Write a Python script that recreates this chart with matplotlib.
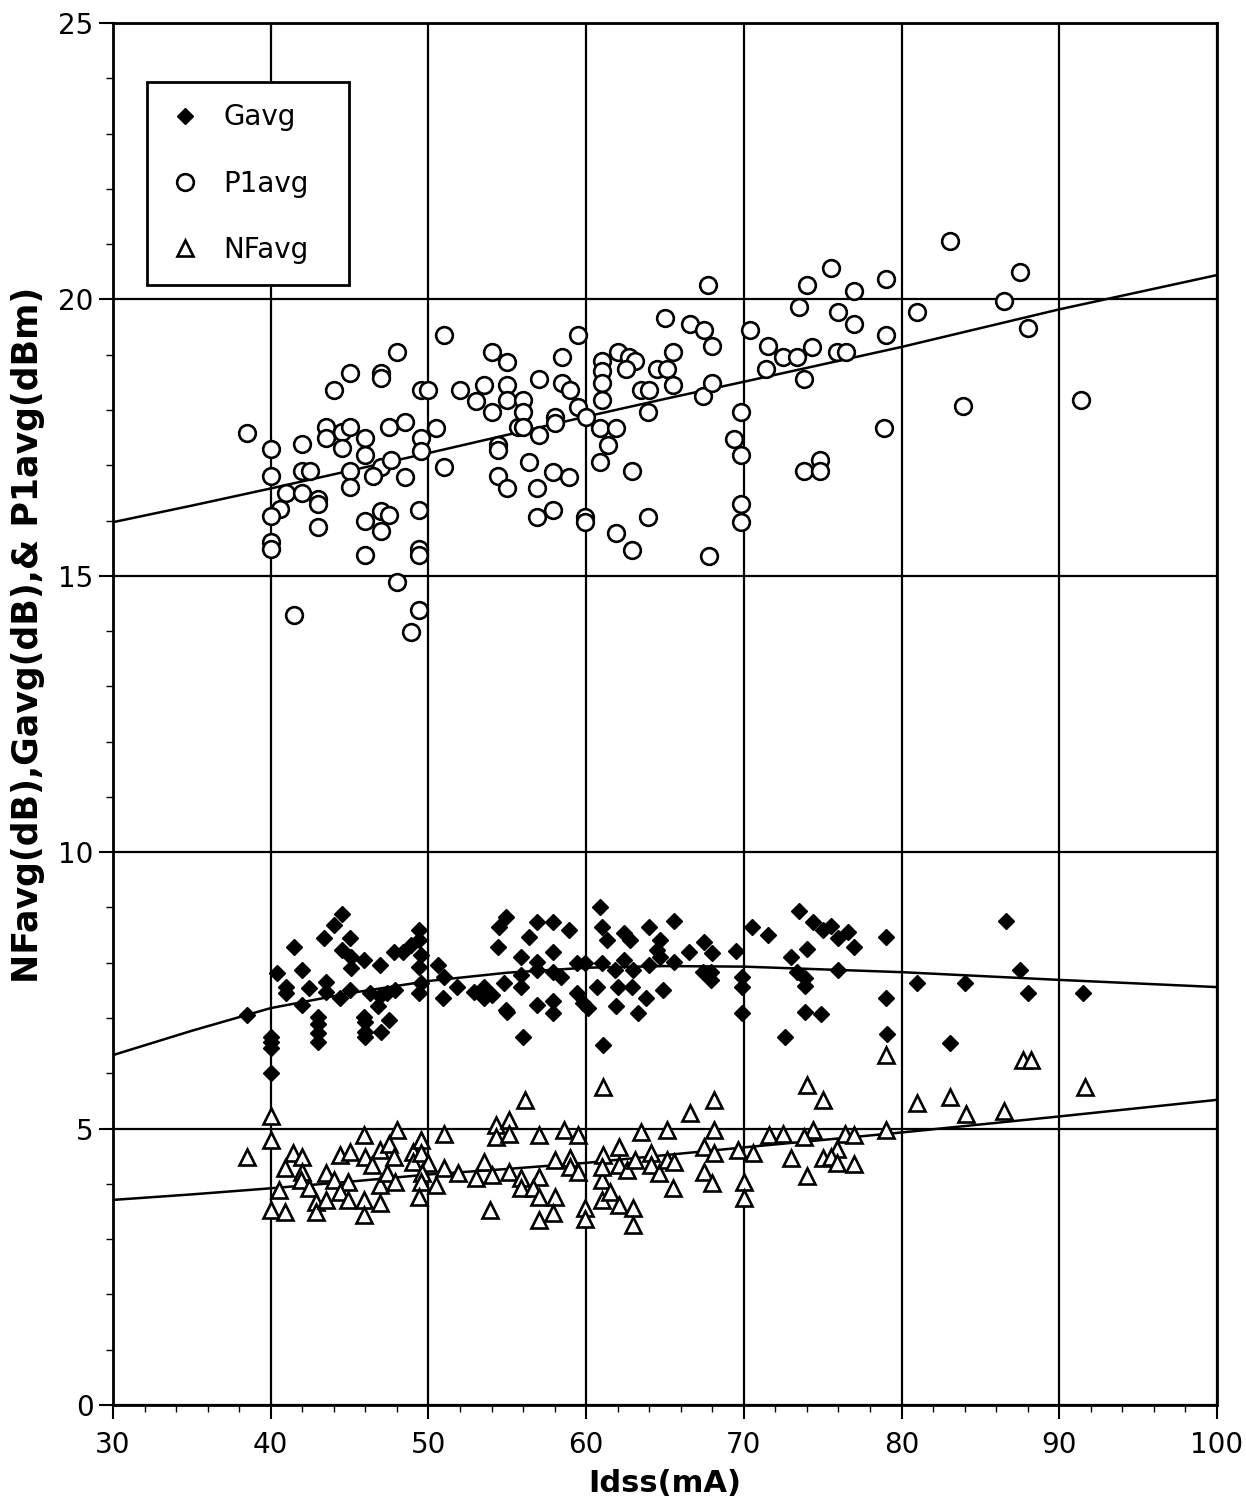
import numpy as np
import matplotlib.pyplot as plt
from matplotlib.lines import Line2D

plt.rcParams['font.family'] = ['DejaVu Sans']

# P1avg (open circles)
p1_x = [51.0, 48.0, 54.0, 55.0, 45.0, 47.0, 47.0, 44.0, 49.5, 50.0, 52.0, 53.5, 55.0, 53.0, 54.0, 55.0,
        55.7, 38.5, 43.5, 43.5, 44.5, 45.0, 44.5, 46.0, 46.0, 47.5, 48.5, 50.5, 49.5, 49.5, 40.0, 42.0,
        47.0, 47.6, 51.0, 54.4, 54.4, 40.0, 42.0, 42.5, 45.0, 45.0, 46.5, 48.5, 54.4, 55.0, 41.0, 42.0,
        43.0, 43.0, 40.6, 40.0, 43.0, 47.0, 47.5, 46.0, 47.0, 49.4, 40.0, 40.0, 46.0, 49.4, 49.4, 48.0,
        49.4, 48.9, 41.5,
        73.5, 65.0, 66.6, 67.5, 68.0, 70.4, 59.5, 71.5, 72.5, 73.4, 74.3, 71.4, 73.8, 58.5, 62.0, 62.7,
        63.1, 62.5, 61.0, 61.0, 61.0, 61.0, 64.5, 65.1, 65.5, 65.5, 63.5, 64.0, 57.0, 58.5, 59.0, 59.5,
        56.0, 56.0, 56.0, 57.0, 58.0, 58.0, 60.0, 60.9, 61.9, 61.4, 60.9, 63.9, 67.4, 68.0, 69.8, 69.4,
        69.8, 56.4, 57.9, 58.9, 56.9, 62.9, 56.9, 57.9, 59.9, 59.9, 63.9, 69.8, 69.8, 61.9, 62.9, 67.8,
        67.7,
        83.1, 87.5, 75.5, 74.0, 79.0, 77.0, 76.0, 77.0, 81.0, 86.5, 79.0, 88.0, 75.9, 76.5, 83.9, 91.4,
        78.9, 73.8, 74.8, 74.8]
p1_y = [19.36, 19.05, 19.05, 18.86, 18.66, 18.66, 18.57, 18.37, 18.37, 18.37, 18.37, 18.46, 18.46, 18.16, 17.97, 18.18,
        17.70, 17.58, 17.70, 17.50, 17.61, 17.70, 17.31, 17.49, 17.19, 17.69, 17.78, 17.67, 17.49, 17.26, 17.29, 17.38,
        16.97, 17.09, 16.97, 17.37, 17.27, 16.81, 16.89, 16.89, 16.89, 16.60, 16.80, 16.78, 16.80, 16.58, 16.49, 16.49,
        16.39, 16.29, 16.20, 16.09, 15.89, 16.18, 16.10, 15.99, 15.81, 16.19, 15.62, 15.48, 15.38, 15.48, 15.38, 14.88,
        14.38, 13.98, 14.29,
        19.86, 19.66, 19.55, 19.45, 19.16, 19.45, 19.36, 19.16, 18.95, 18.95, 19.13, 18.75, 18.56, 18.95, 19.05, 18.95,
        18.88, 18.75, 18.88, 18.70, 18.48, 18.18, 18.75, 18.75, 19.05, 18.45, 18.37, 18.37, 18.56, 18.48, 18.36, 18.06,
        18.18, 17.97, 17.70, 17.55, 17.87, 17.76, 17.87, 17.67, 17.67, 17.37, 17.06, 17.97, 18.25, 18.48, 17.97, 17.47,
        17.19, 17.06, 16.88, 16.78, 16.58, 16.89, 16.07, 16.19, 16.07, 15.98, 16.07, 16.30, 15.98, 15.77, 15.47, 15.36,
        20.26,
        21.06, 20.49, 20.56, 20.26, 20.36, 20.16, 19.77, 19.55, 19.77, 19.98, 19.36, 19.48, 19.05, 19.05, 18.08, 18.18,
        17.67, 16.89, 17.09, 16.89]

# Gavg (filled diamonds)
g_x = [44.5, 44.0, 43.4, 41.5, 45.0, 44.5, 45.1, 45.1, 45.9, 46.9, 47.8, 48.4, 48.9, 49.4, 49.4, 49.5,
       49.4, 49.5, 49.4, 40.4, 41.0, 41.0, 42.0, 42.4, 43.5, 43.5, 45.0, 44.4, 42.0, 43.0, 46.3, 46.9,
       47.4, 47.9, 46.8, 45.9, 50.6, 51.0, 51.8, 50.9, 52.9, 53.5, 54.0, 53.5, 54.8, 54.9, 54.4, 54.9,
       54.5, 56.4, 56.9, 57.9, 58.9, 55.9, 56.9, 56.9, 57.9, 55.9, 55.9, 57.9, 58.4, 59.4, 59.9, 60.9,
       61.0, 61.3, 62.4, 62.8, 64.0, 64.7, 64.5, 61.0, 61.8, 62.4, 63.0, 64.0, 64.7, 60.7, 62.0, 62.9,
       59.4, 59.8, 56.9, 57.9, 61.9, 63.8, 64.9, 63.3, 57.9, 38.5,
       65.6, 66.5, 67.5, 68.0, 69.5, 65.6, 67.4, 67.9, 67.9, 70.5, 71.5, 73.5, 74.4, 75.0, 75.5, 76.0,
       76.6, 77.0, 74.0, 73.0, 79.0, 69.9, 69.9, 69.9, 73.4, 73.9, 73.9, 76.0, 73.9, 74.9, 79.0, 81.0,
       84.0, 86.6, 87.5, 88.0, 91.5,
       40.0, 40.0, 40.0, 40.0, 43.0, 43.0, 43.0, 46.0, 46.0, 46.0, 47.0, 47.5, 55.0, 56.0, 60.1, 61.1,
       72.6, 79.1, 83.1]
g_y = [8.89, 8.68, 8.44, 8.29, 8.44, 8.23, 8.11, 7.90, 8.05, 7.96, 8.20, 8.20, 8.32, 8.59, 8.41, 8.14,
       7.93, 7.63, 7.45, 7.81, 7.57, 7.45, 7.87, 7.54, 7.66, 7.48, 7.51, 7.36, 7.24, 7.02, 7.45, 7.39,
       7.45, 7.51, 7.21, 7.02, 7.96, 7.75, 7.57, 7.36, 7.48, 7.57, 7.42, 7.36, 7.63, 7.15, 8.29, 8.83,
       8.65, 8.47, 8.74, 8.74, 8.59, 8.11, 8.02, 7.87, 8.20, 7.78, 7.57, 7.84, 7.75, 7.99, 8.00, 9.01,
       8.65, 8.41, 8.53, 8.41, 8.65, 8.41, 8.23, 7.99, 7.87, 8.05, 7.87, 7.96, 8.11, 7.57, 7.57, 7.57,
       7.45, 7.27, 7.24, 7.30, 7.21, 7.36, 7.51, 7.09, 7.09, 7.06,
       8.76, 8.20, 8.38, 8.17, 8.22, 8.02, 7.84, 7.84, 7.69, 8.65, 8.50, 8.94, 8.74, 8.59, 8.67, 8.44,
       8.56, 8.28, 8.24, 8.10, 8.46, 7.75, 7.57, 7.10, 7.84, 7.72, 7.58, 7.86, 7.11, 7.07, 7.36, 7.64,
       7.64, 8.76, 7.86, 7.45, 7.45,
       6.66, 6.57, 6.45, 6.00, 6.90, 6.73, 6.57, 6.93, 6.75, 6.66, 6.75, 6.96, 7.11, 6.66, 7.18, 6.51,
       6.66, 6.72, 6.55]

# NFavg (open triangles)
nf_x = [40.0, 40.0, 38.5, 41.4, 42.0, 40.9, 42.0, 41.9, 40.5, 40.0, 40.9, 42.4, 42.9, 42.9, 43.5, 43.5,
        44.0, 44.4, 45.0, 44.9, 44.4, 44.9, 45.9, 46.0, 45.9, 45.9, 46.4, 46.9, 46.9, 46.9, 47.5, 47.8,
        48.0, 47.4, 47.9, 49.0, 49.0, 49.5, 49.5, 50.0, 49.6, 49.5, 49.4, 50.5, 51.0, 51.0, 51.9, 53.0,
        53.5, 53.9, 54.3, 54.3,
        55.1, 55.1, 56.1, 57.0, 58.6, 59.5, 61.1, 63.5, 65.1, 66.6, 68.1, 68.1, 62.1, 61.1, 64.1, 58.0,
        59.0, 59.0, 59.5, 54.0, 55.1, 55.9, 57.0, 55.9, 56.6, 57.0, 58.0, 57.9, 57.0, 59.9, 59.9, 61.0,
        61.0, 61.5, 62.1, 63.0, 63.0, 61.0, 62.1, 62.6, 63.1, 64.1, 64.6, 65.1, 65.6, 65.5, 67.5, 68.1,
        67.5, 68.0, 69.6, 70.6, 70.0, 70.0, 71.6, 72.5, 73.0,
        79.0, 74.0, 75.0, 81.0, 83.1, 84.1, 86.5, 87.7, 88.2, 91.6, 74.4, 73.8, 76.4, 77.0, 79.0, 75.9,
        75.0, 75.5, 75.9, 77.0, 74.0]
nf_y = [5.22, 4.79, 4.49, 4.55, 4.49, 4.28, 4.22, 4.07, 3.89, 3.53, 3.50, 3.92, 3.68, 3.50, 4.19, 3.71,
        4.07, 4.52, 4.58, 4.04, 3.86, 3.71, 4.88, 4.49, 3.71, 3.44, 4.34, 4.61, 3.98, 3.65, 4.73, 4.49,
        4.97, 4.19, 4.04, 4.58, 4.40, 4.79, 4.55, 4.37, 4.19, 4.04, 3.77, 3.98, 4.91, 4.28, 4.19, 4.10,
        4.40, 3.53, 5.07, 4.85,
        5.16, 4.91, 5.52, 4.88, 4.97, 4.88, 5.76, 4.94, 4.97, 5.28, 5.52, 4.97, 4.67, 4.52, 4.55, 4.43,
        4.46, 4.31, 4.22, 4.16, 4.22, 4.10, 4.13, 3.92, 3.92, 3.77, 3.77, 3.47, 3.35, 3.56, 3.36, 4.07,
        3.71, 3.86, 3.62, 3.56, 3.26, 4.31, 4.34, 4.25, 4.43, 4.34, 4.19, 4.43, 4.40, 3.92, 4.67, 4.55,
        4.22, 4.01, 4.61, 4.55, 4.04, 3.74, 4.88, 4.91, 4.46,
        6.33, 5.79, 5.52, 5.47, 5.57, 5.26, 5.31, 6.24, 6.24, 5.76, 4.97, 4.85, 4.91, 4.88, 4.97, 4.64,
        4.46, 4.49, 4.38, 4.36, 4.14]

# trend curves
fit_x = [30, 35, 40, 45, 50, 55, 60, 65, 70, 80, 90, 100]
p1_fit = [15.97, 16.27, 16.58, 16.90, 17.22, 17.55, 17.88, 18.20, 18.51, 19.14, 19.82, 20.44]
g_fit = [6.33, 6.77, 7.18, 7.45, 7.67, 7.82, 7.91, 7.94, 7.93, 7.83, 7.69, 7.56]
nf_fit = [3.71, 3.81, 3.92, 4.04, 4.17, 4.27, 4.38, 4.52, 4.66, 4.93, 5.22, 5.52]

fig = plt.figure(figsize=(12.46, 15.05), dpi=100)
ax = fig.add_axes([113/1246, 1 - 1405/1505, 1104/1246, 1382/1505])

ax.plot(fit_x, p1_fit, color='black', lw=1.8, zorder=3)
ax.plot(fit_x, g_fit, color='black', lw=1.8, zorder=3)
ax.plot(fit_x, nf_fit, color='black', lw=1.8, zorder=3)

ax.plot(g_x, g_y, 'D', color='black', ms=8.5, zorder=4)
ax.plot(p1_x, p1_y, 'o', mfc='white', mec='black', mew=1.9, ms=12, zorder=4)
ax.plot(nf_x, nf_y, '^', mfc='white', mec='black', mew=1.9, ms=11, zorder=4)

ax.set_xlim(30, 100)
ax.set_ylim(0, 25)
ax.set_xticks(np.arange(30, 101, 10))
ax.set_xticks(np.arange(30, 101, 2), minor=True)
ax.set_yticks(np.arange(0, 26, 5))
ax.set_yticks(np.arange(0, 26, 1), minor=True)
ax.grid(True, which='major', color='black', lw=1.6)
ax.set_axisbelow(True)
ax.tick_params(which='major', direction='out', length=10, width=1.5, labelsize=20)
ax.tick_params(axis='x', which='major', pad=9)
ax.tick_params(axis='y', which='major', pad=4)
ax.tick_params(which='minor', direction='out', length=5, width=1)
for s in ax.spines.values():
    s.set_linewidth(2)

ax.set_xlabel('Idss(mA)', fontsize=22, fontweight='bold')
ax.set_ylabel('NFavg(dB),Gavg(dB),& P1avg(dBm)', fontsize=25, fontweight='bold')
ax.xaxis.set_label_coords(0.5, -0.046)
ax.yaxis.set_label_coords(-0.062, 0.557)

handles = [Line2D([], [], ls='none', marker='D', color='black', ms=8.5),
           Line2D([], [], ls='none', marker='o', mfc='white', mec='black', mew=1.9, ms=12),
           Line2D([], [], ls='none', marker='^', mfc='white', mec='black', mew=1.9, ms=11)]
leg = ax.legend(handles, ['Gavg', 'P1avg', 'NFavg'], loc='upper left',
                bbox_to_anchor=(0.031, 0.0, 0.183, 0.957), mode='expand',
                borderaxespad=0, fontsize=20, frameon=True, fancybox=False, edgecolor='black',
                framealpha=1, borderpad=0.75, labelspacing=1.38, handletextpad=0.76, handlelength=1.22)
leg.get_frame().set_linewidth(2)
leg.set_zorder(10)

plt.savefig('out.png', dpi=100)
